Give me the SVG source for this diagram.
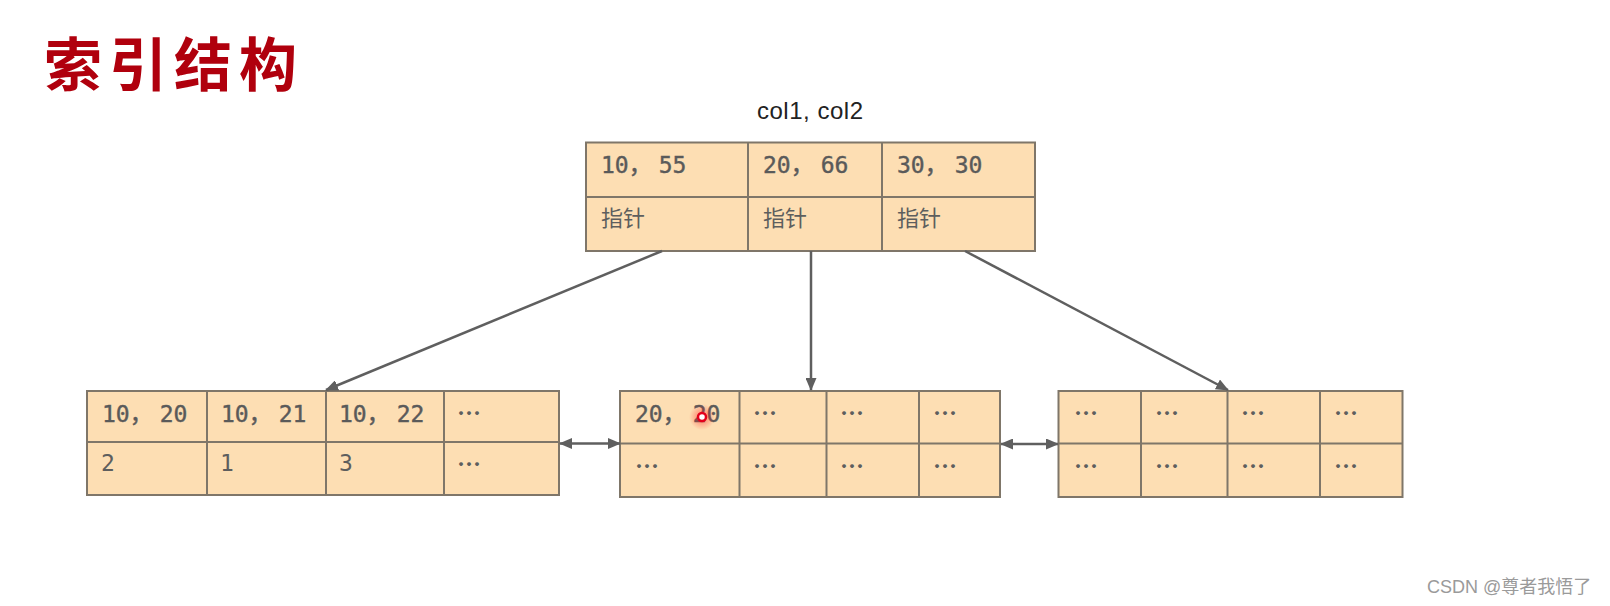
<svg xmlns="http://www.w3.org/2000/svg" width="1610" height="606" viewBox="0 0 1610 606">
<defs>
<style>
.cell{fill:#FDDEB3;stroke:#7f7669;stroke-width:2}
.ln{stroke:#7f7669;stroke-width:2;fill:none}
.t{font-family:"DejaVu Sans Mono","Noto Sans CJK SC",monospace;font-size:23px;fill:#5a5a5a;stroke:#5a5a5a;stroke-width:0.4}
.cm{font-family:"Noto Sans CJK SC",sans-serif}
.n{font-family:"DejaVu Sans Mono","Noto Sans CJK SC",monospace;font-size:23px;fill:#5e5e5e}
.c{font-family:"Noto Sans CJK SC",sans-serif;font-size:22px;fill:#5e5e5e}
.d{font-family:"Noto Sans CJK SC",sans-serif;font-size:24px;font-weight:700;fill:#5e5e5e}
.conn{stroke:#5f5f5f;stroke-width:2.5;fill:none}
</style>
<marker id="ah" viewBox="0 0 13 11" refX="12" refY="5.5" markerWidth="13" markerHeight="11" markerUnits="userSpaceOnUse" orient="auto-start-reverse">
<path d="M0,0 L13,5.5 L0,11 Z" fill="#5f5f5f"/>
</marker>
<radialGradient id="glow">
<stop offset="0" stop-color="#ff2020" stop-opacity="0.55"/>
<stop offset="1" stop-color="#ff2020" stop-opacity="0"/>
</radialGradient>
</defs>
<rect width="1610" height="606" fill="#ffffff"/>
<text id="title" x="44" y="86" font-family="'Noto Sans CJK SC',serif" font-size="58" font-weight="700" letter-spacing="7" fill="#b0000d">索引结构</text>
<text id="collabel" x="757" y="119" font-family="'Liberation Sans',Arial,sans-serif" font-size="24" fill="#222" textLength="106" lengthAdjust="spacing">col1, col2</text>

<g id="root">
<rect class="cell" x="586" y="142.5" width="449" height="108.5"/>
<line class="ln" x1="586" y1="197" x2="1035" y2="197"/>
<line class="ln" x1="748" y1="142.5" x2="748" y2="251"/>
<line class="ln" x1="882" y1="142.5" x2="882" y2="251"/>
<text class="t" x="601" y="173">10<tspan class="cm">，</tspan><tspan dx="7">55</tspan></text>
<text class="t" x="763" y="173">20<tspan class="cm">，</tspan><tspan dx="7">66</tspan></text>
<text class="t" x="897" y="173">30<tspan class="cm">，</tspan><tspan dx="7">30</tspan></text>
<text class="c" x="601" y="226">指针</text>
<text class="c" x="763" y="226">指针</text>
<text class="c" x="897" y="226">指针</text>
</g>

<g id="leaf1">
<rect class="cell" x="87" y="391" width="472" height="104"/>
<line class="ln" x1="87" y1="442" x2="559" y2="442"/>
<line class="ln" x1="207" y1="391" x2="207" y2="495"/>
<line class="ln" x1="326" y1="391" x2="326" y2="495"/>
<line class="ln" x1="444" y1="391" x2="444" y2="495"/>
<text class="t" x="102" y="422">10<tspan class="cm">，</tspan><tspan dx="7">20</tspan></text>
<text class="t" x="221" y="422">10<tspan class="cm">，</tspan><tspan dx="7">21</tspan></text>
<text class="t" x="339" y="422">10<tspan class="cm">，</tspan><tspan dx="7">22</tspan></text>
<text class="d" x="457" y="422">…</text>
<text class="n" x="101" y="471">2</text>
<text class="n" x="220" y="471">1</text>
<text class="n" x="339" y="471">3</text>
<text class="d" x="457" y="473">…</text>
</g>

<g id="leaf2">
<rect class="cell" x="620" y="391" width="380" height="106"/>
<line class="ln" x1="620" y1="443.5" x2="1000" y2="443.5"/>
<line class="ln" x1="739.5" y1="391" x2="739.5" y2="497"/>
<line class="ln" x1="826.5" y1="391" x2="826.5" y2="497"/>
<line class="ln" x1="919" y1="391" x2="919" y2="497"/>
<text class="t" x="635" y="422">20<tspan class="cm">，</tspan><tspan dx="7">20</tspan></text>
<text class="d" x="753" y="422">…</text>
<text class="d" x="840" y="422">…</text>
<text class="d" x="933" y="422">…</text>
<text class="d" x="635" y="475">…</text>
<text class="d" x="753" y="475">…</text>
<text class="d" x="840" y="475">…</text>
<text class="d" x="933" y="475">…</text>
</g>

<g id="leaf3">
<rect class="cell" x="1058.5" y="391" width="344" height="106"/>
<line class="ln" x1="1058.5" y1="443.5" x2="1402.5" y2="443.5"/>
<line class="ln" x1="1141" y1="391" x2="1141" y2="497"/>
<line class="ln" x1="1227.5" y1="391" x2="1227.5" y2="497"/>
<line class="ln" x1="1320" y1="391" x2="1320" y2="497"/>
<text class="d" x="1074" y="422">…</text>
<text class="d" x="1155" y="422">…</text>
<text class="d" x="1241" y="422">…</text>
<text class="d" x="1334" y="422">…</text>
<text class="d" x="1074" y="475">…</text>
<text class="d" x="1155" y="475">…</text>
<text class="d" x="1241" y="475">…</text>
<text class="d" x="1334" y="475">…</text>
</g>

<g id="connectors">
<line class="conn" x1="662" y1="251" x2="326" y2="390" marker-end="url(#ah)"/>
<line class="conn" x1="811" y1="251" x2="811" y2="390" marker-end="url(#ah)"/>
<line class="conn" x1="965" y1="251" x2="1228" y2="390" marker-end="url(#ah)"/>
<line class="conn" x1="560" y1="443.5" x2="620" y2="443.5" marker-start="url(#ah)" marker-end="url(#ah)"/>
<line class="conn" x1="1001" y1="444" x2="1058" y2="444" marker-start="url(#ah)" marker-end="url(#ah)"/>
</g>

<g id="cursor">
<circle cx="702" cy="417" r="13" fill="url(#glow)"/>
<circle cx="702" cy="417" r="4" fill="#ffffff" stroke="#e3001b" stroke-width="2.5"/>
</g>

<text id="watermark" x="1427" y="593" font-family="'Liberation Sans','Noto Sans CJK SC',sans-serif" font-size="18" fill="#9a9a9a">CSDN @尊者我悟了</text>
</svg>
